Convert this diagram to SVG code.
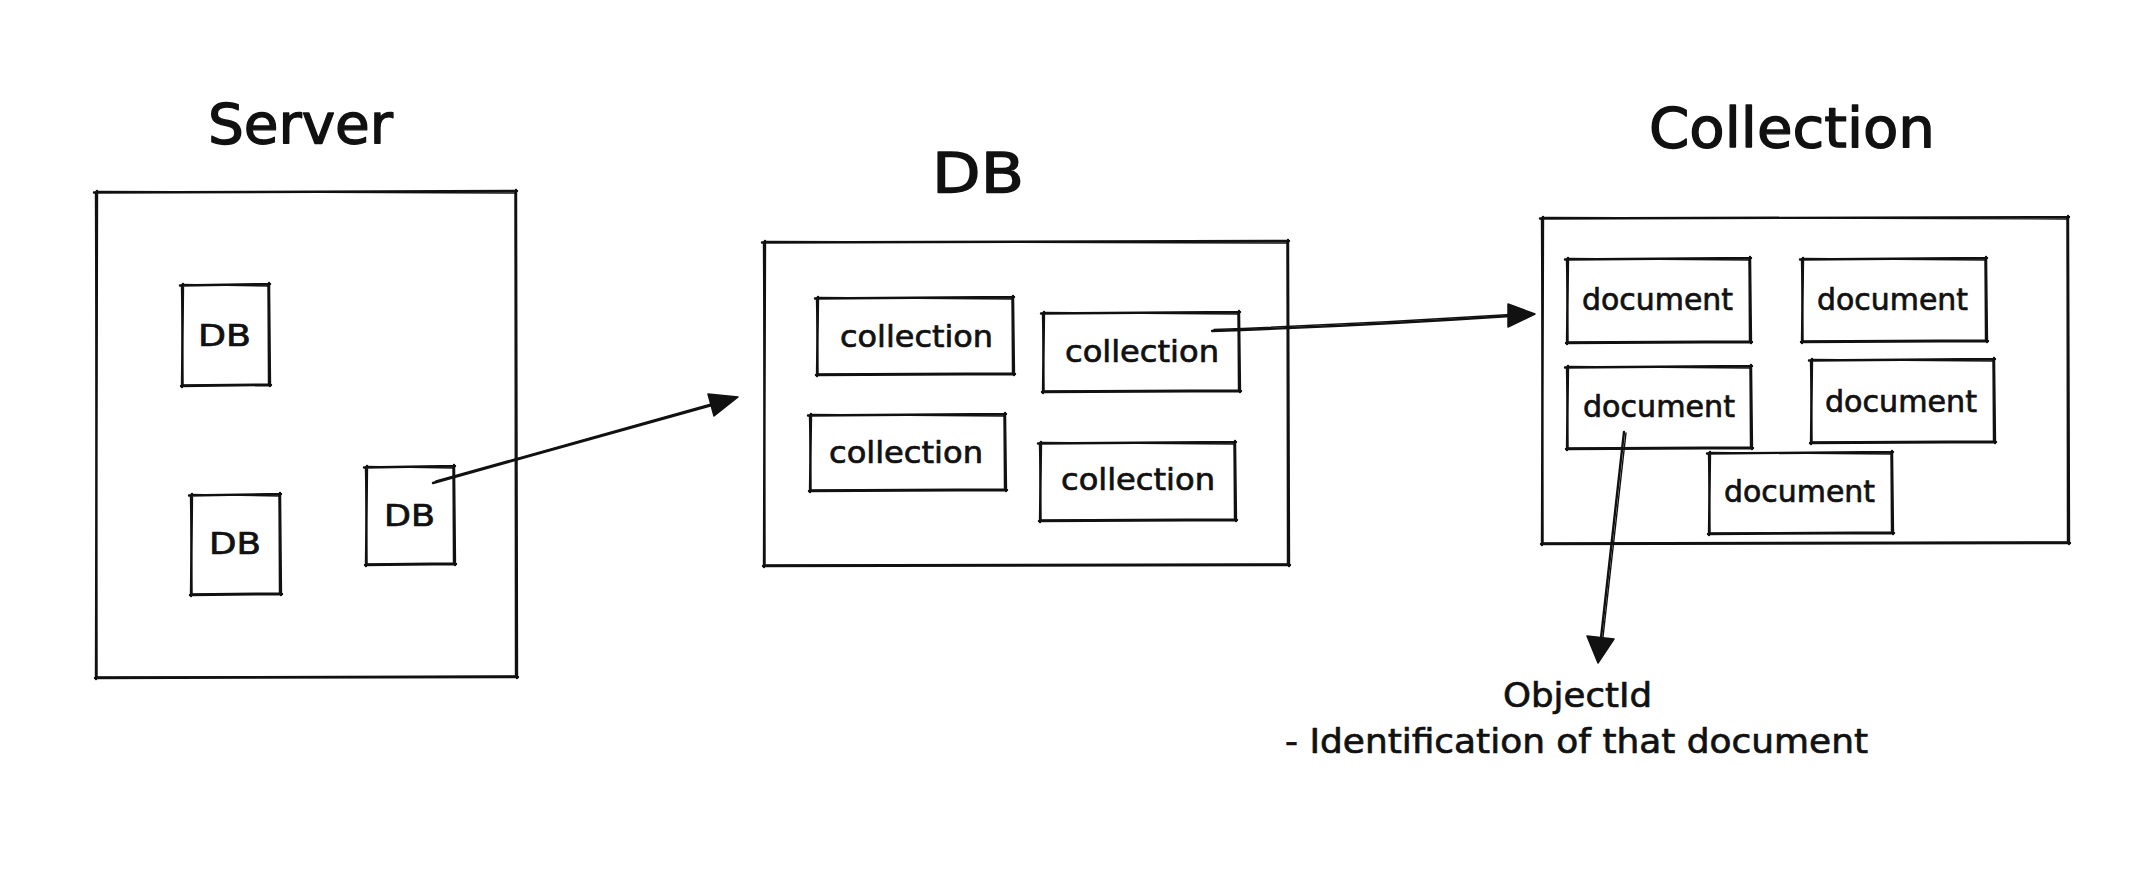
<svg xmlns="http://www.w3.org/2000/svg" width="2140" height="888" viewBox="0 0 2140 888">
<style>
.a{fill:none;stroke:#111111;stroke-width:2.4;stroke-linecap:round}
.b{fill:none;stroke:#111111;stroke-width:1.4;stroke-linecap:round}
.t{font-family:"DejaVu Sans","Liberation Sans",sans-serif;fill:#111111;stroke:#111111;stroke-width:0.7;stroke-linejoin:round}
.title{font-size:56px;stroke-width:1.4}
.lbl{font-size:30px}
.note{font-size:34px}
.head{fill:#111111;stroke:#111111;stroke-width:1.5;stroke-linejoin:round}
</style>
<rect width="2140" height="888" fill="#ffffff"/>
<g id="title-server"><text class="t title" x="208" y="143" textLength="185" lengthAdjust="spacingAndGlyphs">Server</text></g>
<g id="title-db"><text class="t title" x="932" y="192" textLength="92" lengthAdjust="spacingAndGlyphs">DB</text></g>
<g id="title-collection"><text class="t title" x="1649" y="147" textLength="286" lengthAdjust="spacingAndGlyphs">Collection</text></g>

<g id="server">
<path class="a" d="M94 192.5 L517 191 M516 190 L517 678 M518 677 L95 678 M96 679 L97 191"/>
<path class="b" d="M96 191.5 L516 193 M515 192 L515.5 677 M516 676 L97 677 M97 677 L95.5 193"/>
</g>
<g id="server-db1">
<path class="a" d="M180 285.5 L270 284 M269 283 L270 386 M271 385 L181 386 M182 387 L183 284"/>
<path class="b" d="M182 284.5 L269 286 M268 285 L268.5 385 M269 384 L183 385 M183 385 L181.5 286"/>
<text class="t lbl" x="198" y="346" textLength="53" lengthAdjust="spacingAndGlyphs">DB</text>
</g>
<g id="server-db2">
<path class="a" d="M189 495.5 L281 494 M280 493 L281 595 M282 594 L190 595 M191 596 L192 494"/>
<path class="b" d="M191 494.5 L280 496 M279 495 L279.5 594 M280 593 L192 594 M192 594 L190.5 496"/>
<text class="t lbl" x="209" y="554" textLength="52" lengthAdjust="spacingAndGlyphs">DB</text>
</g>
<g id="server-db3">
<path class="a" d="M364 467.5 L455 466 M454 465 L455 565 M456 564 L365 565 M366 566 L367 466"/>
<path class="b" d="M366 466.5 L454 468 M453 467 L453.5 564 M454 563 L367 564 M367 564 L365.5 468"/>
<text class="t lbl" x="384" y="526" textLength="51" lengthAdjust="spacingAndGlyphs">DB</text>
</g>

<g id="db">
<path class="a" d="M762 242.5 L1289 241 M1288 240 L1289 566 M1290 565 L763 566 M764 567 L765 241"/>
<path class="b" d="M764 241.5 L1288 243 M1287 242 L1287.5 565 M1288 564 L765 565 M765 565 L763.5 243"/>
</g>
<g id="db-col1">
<path class="a" d="M815 298.5 L1014 297 M1013 296 L1014 375 M1015 374 L816 375 M817 376 L818 297"/>
<path class="b" d="M817 297.5 L1013 299 M1012 298 L1012.5 374 M1013 373 L818 374 M818 374 L816.5 299"/>
<text class="t lbl" x="840" y="347" textLength="153" lengthAdjust="spacingAndGlyphs">collection</text>
</g>
<g id="db-col2">
<path class="a" d="M1041 313.5 L1240 312 M1239 311 L1240 392 M1241 391 L1042 392 M1043 393 L1044 312"/>
<path class="b" d="M1043 312.5 L1239 314 M1238 313 L1238.5 391 M1239 390 L1044 391 M1044 391 L1042.5 314"/>
<text class="t lbl" x="1065" y="362" textLength="154" lengthAdjust="spacingAndGlyphs">collection</text>
</g>
<g id="db-col3">
<path class="a" d="M808 415.5 L1006 414 M1005 413 L1006 491 M1007 490 L809 491 M810 492 L811 414"/>
<path class="b" d="M810 414.5 L1005 416 M1004 415 L1004.5 490 M1005 489 L811 490 M811 490 L809.5 416"/>
<text class="t lbl" x="829" y="463" textLength="154" lengthAdjust="spacingAndGlyphs">collection</text>
</g>
<g id="db-col4">
<path class="a" d="M1038 443.5 L1236 442 M1235 441 L1236 521 M1237 520 L1039 521 M1040 522 L1041 442"/>
<path class="b" d="M1040 442.5 L1235 444 M1234 443 L1234.5 520 M1235 519 L1041 520 M1041 520 L1039.5 444"/>
<text class="t lbl" x="1061" y="490" textLength="154" lengthAdjust="spacingAndGlyphs">collection</text>
</g>

<g id="collection">
<path class="a" d="M1540 218.5 L2069 217 M2068 216 L2069 544 M2070 543 L1541 544 M1542 545 L1543 217"/>
<path class="b" d="M1542 217.5 L2068 219 M2067 218 L2067.5 543 M2068 542 L1543 543 M1543 543 L1541.5 219"/>
</g>
<g id="doc1">
<path class="a" d="M1565 259.5 L1751 258 M1750 257 L1751 343 M1752 342 L1566 343 M1567 344 L1568 258"/>
<path class="b" d="M1567 258.5 L1750 260 M1749 259 L1749.5 342 M1750 341 L1568 342 M1568 342 L1566.5 260"/>
<text class="t lbl" x="1582" y="310" textLength="151" lengthAdjust="spacingAndGlyphs">document</text>
</g>
<g id="doc2">
<path class="a" d="M1800 259.5 L1987 258 M1986 257 L1987 342 M1988 341 L1801 342 M1802 343 L1803 258"/>
<path class="b" d="M1802 258.5 L1986 260 M1985 259 L1985.5 341 M1986 340 L1803 341 M1803 341 L1801.5 260"/>
<text class="t lbl" x="1817" y="310" textLength="151" lengthAdjust="spacingAndGlyphs">document</text>
</g>
<g id="doc3">
<path class="a" d="M1565 367.5 L1752 366 M1751 365 L1752 449 M1753 448 L1566 449 M1567 450 L1568 366"/>
<path class="b" d="M1567 366.5 L1751 368 M1750 367 L1750.5 448 M1751 447 L1568 448 M1568 448 L1566.5 368"/>
<text class="t lbl" x="1583" y="417" textLength="152" lengthAdjust="spacingAndGlyphs">document</text>
</g>
<g id="doc4">
<path class="a" d="M1809 360.5 L1995 359 M1994 358 L1995 443 M1996 442 L1810 443 M1811 444 L1812 359"/>
<path class="b" d="M1811 359.5 L1994 361 M1993 360 L1993.5 442 M1994 441 L1812 442 M1812 442 L1810.5 361"/>
<text class="t lbl" x="1825" y="412" textLength="152" lengthAdjust="spacingAndGlyphs">document</text>
</g>
<g id="doc5">
<path class="a" d="M1707 453.5 L1893 452 M1892 451 L1893 534 M1894 533 L1708 534 M1709 535 L1710 452"/>
<path class="b" d="M1709 452.5 L1892 454 M1891 453 L1891.5 533 M1892 532 L1710 533 M1710 533 L1708.5 454"/>
<text class="t lbl" x="1724" y="502" textLength="151" lengthAdjust="spacingAndGlyphs">document</text>
</g>

<g id="objectid-note">
<text class="t note" x="1503" y="707" textLength="149" lengthAdjust="spacingAndGlyphs">ObjectId</text>
<text class="t note" x="1285" y="753" textLength="583" lengthAdjust="spacingAndGlyphs">- Identification of that document</text>
</g>

<g id="connectors">
<path class="a" d="M433 483 L712 405"/>
<path class="b" d="M436 481 L713 403.5"/>
<polygon class="head" points="738,397 708,394 714,416"/>
<path class="a" d="M1212 331 Q1360 326 1510 316"/>
<path class="b" d="M1214 329.5 Q1362 324 1511 314.5"/>
<polygon class="head" points="1535,314 1508,304 1508,327"/>
<path class="a" d="M1624 432 L1601 638"/>
<path class="b" d="M1626 433 L1603 637"/>
<polygon class="head" points="1598,663 1587,636 1614,639"/>
</g>
</svg>
